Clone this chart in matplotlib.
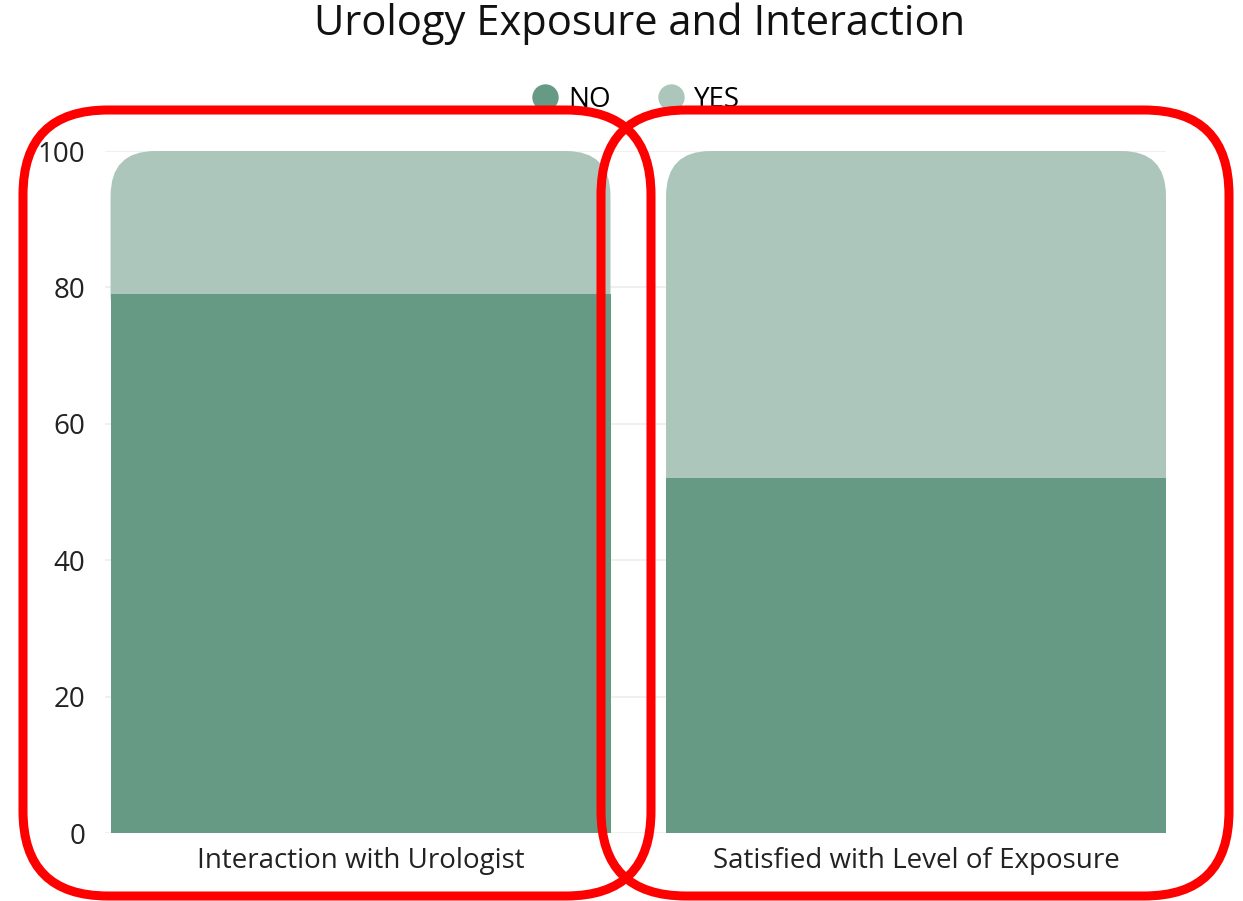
import matplotlib
matplotlib.use("Agg")
import matplotlib.pyplot as plt
from matplotlib.patches import FancyBboxPatch
from matplotlib.lines import Line2D

categories = ["Interaction with Urologist", "Satisfied with Level of Exposure"]
no_vals = [79, 52]
yes_vals = [21, 48]
series_names = ["NO", "YES"]
yticks = [0, 20, 40, 60, 80, 100]

c_no = "#669a84"
c_yes = "#adc6bc"

plt.rcParams['font.family'] = ['Open Sans', 'DejaVu Sans']

W, H = 1243, 901
fig = plt.figure(figsize=(W / 100, H / 100), dpi=100)
ax = fig.add_axes([105 / W, (H - 833) / H, (1166 - 105) / W, (833 - 151) / H])

x = list(range(len(categories)))
width = 0.9
ax.set_xlim(-0.46, 1.45)
ax.set_ylim(0, 100)

# NO part drawn as normal bars
ax.bar(x, no_vals, width=width, color=c_no, zorder=3)

# YES part: rounded top corners, bottom hidden under NO bar
yes_bars = ax.bar(x, yes_vals, bottom=no_vals, width=width, color=c_yes, zorder=2)
rx = 0.08
ry = 6.6
for b in yes_bars:
    b.set_visible(False)
    bx, by = b.get_x(), b.get_y()
    bw, bh = b.get_width(), b.get_height()
    p = FancyBboxPatch((bx, by - ry), bw, bh + ry,
                       boxstyle="round,pad=0,rounding_size=%f" % rx,
                       mutation_aspect=ry / rx, facecolor=c_yes,
                       edgecolor="none", zorder=2, clip_on=False)
    ax.add_patch(p)

ax.set_yticks(yticks)
ax.set_xticks(x)
ax.set_xticklabels(categories, fontsize=20, color="#222222")
ax.tick_params(axis="y", labelsize=20, labelcolor="#222222", length=0, pad=14)
ax.tick_params(axis="x", length=0, pad=10)
ax.grid(axis="y", color="#eeeeee", linewidth=1.2, zorder=0)
for s in ax.spines.values():
    s.set_visible(False)

fig.text(640 / W, 1 - 24 / H, "Urology Exposure and Interaction",
         ha="center", va="center", fontsize=30, color="#111111")

handles = [Line2D([], [], marker="o", linestyle="none", markersize=19,
                  markerfacecolor=c, markeredgecolor="none")
           for c in [c_no, c_yes]]
fig.legend(handles, series_names, loc="center", bbox_to_anchor=(634 / W, 1 - 100 / H),
           ncol=2, frameon=False, fontsize=20, handletextpad=0.25,
           columnspacing=1.55, handlelength=1.2)

# red rounded outlines drawn over the chart
ov = fig.add_axes([0, 0, 1, 1], zorder=10)
ov.set_xlim(0, W)
ov.set_ylim(H, 0)
ov.axis("off")
ov.patch.set_alpha(0)
for x0 in [23, 601]:
    ov.add_patch(FancyBboxPatch((x0, 110), 628, 786,
                                boxstyle="round,pad=0,rounding_size=85",
                                facecolor="none", edgecolor="#ff0000", linewidth=6.5))

fig.savefig("out.png", dpi=100)
